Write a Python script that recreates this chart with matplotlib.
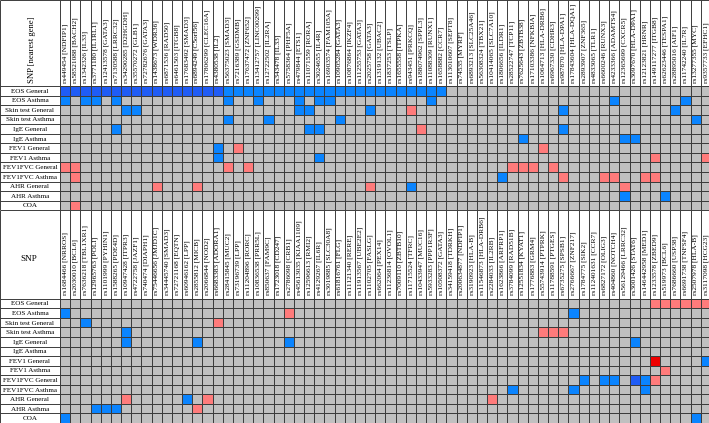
import numpy as np
import matplotlib.pyplot as plt
from matplotlib.colors import ListedColormap

# row traits (same for both panels)
traits = ['EOS General', 'EOS Asthma', 'Skin test General', 'Skin test Asthma',
          'IgE General', 'IgE Asthma', 'FEV1 General', 'FEV1 Asthma',
          'FEV1FVC General', 'FEV1FVC Asthma', 'AHR General', 'AHR Asthma', 'COA']

top_snps = [
    'rs449454 [NDFIP1]', 'rs58521088 [BACH2]', 'rs1342326 [IL33]', 'rs3771180 [IL1RL1]',
    'rs12413578 [GATA3]', 'rs7130588 [LRRC32]', 'rs34290285 [D2HGDH]', 'rs35570272 [GLB1]',
    'rs72782676 [GATA3]', 'rs1438673 [WDR36]', 'rs6871536 [RAD50]', 'rs6461503 [ITGB8]',
    'rs17683492 [SMAD3]', 'rs6894249 [C5orf56]', 'rs17806299 [CLEC16A]', 'rs4380538 [IL2]',
    'rs56375023 [SMAD3]', 'rs7216389 [GSDMB]', 'rs17637472 [ZNF652]', 'rs13412757 [LINC00299]',
    'rs12722502 [IL2RA]', 'rs343478 [IL33]', 'rs5758364 [PHF5A]', 'rs479844 [ETS1]',
    'rs11071559 [RORA]', 'rs3024655 [IL4R]', 'rs16903574 [FAM105A]', 'rs10905284 [GATA3]',
    'rs10876864 [IKZF4]', 'rs11255753 [GATA3]', 'rs2025758 [GATA3]', 'rs1319132 [UBAC2]',
    'rs1837253 [TSLP]', 'rs1655558 [ITPKA]', 'rs943451 [PRKCQ]', 'rs188074962 [SPPL3]',
    'rs11088309 [RUNX1]', 'rs1658882 [CCR7]', 'rs113010607 [SEPT8]', 'rs74535 [MYRF]',
    'rs6893213 [SLC25A46]', 'rs56308324 [TBX21]', 'rs10414065 [SLC7A10]', 'rs1806656 [ILDR1]',
    'rs28522747 [TCP11]', 'rs7625643 [ZBTB38]', 'rs17103386 [NFKBIA]', 'rs1064713 [HLA-DRB6]',
    'rs6967330 [CDHR3]', 'rs987870 [HLA-DPA1]', 'rs17843604 [HLA-DQA1]', 'rs2893907 [ZNF365]',
    'rs4833065 [TLR1]', 'rs6600246 [RUNX3]', 'rs4233366 [ADAMTS4]', 'rs12365699 [CXCR5]',
    'rs3097670 [HLA-DPA1]', 'rs12123821 [HRNR]', 'rs149117277 [ITGB8]', 'rs62623446 [TESPA1]',
    'rs28895016 [AIF1]', 'rs11742240 [IL7R]', 'rs13277355 [MYC]', 'rs9357733 [EFHC1]']

bottom_snps = [
    'rs1684466 [NRROS]', 'rs2030010 [BCL6]', 'rs7636218 [TBL1XR1]', 'rs12965763 [POLI]',
    'rs1101999 [PYHIN1]', 'rs1588265 [PDE4D]', 'rs10947428 [ITPR3]', 'rs4722758 [JAZF1]',
    'rs740474 [DIAPH1]', 'rs75446656 [JMJD1C]', 'rs34445740 [SMAD3]', 'rs72721168 [EQTN]',
    'rs60946162 [LPP]', 'rs2855812 [MICB]', 'rs2066844 [NOD2]', 'rs6683383 [ADORA1]',
    'rs28415845 [MUC2]', 'rs73196739 [LPP]', 'rs11204896 [RORC]', 'rs10836538 [PRR5L]',
    'rs850637 [FAM9C]', 'rs1723018 [CD247]', 'rs2786098 [CRB1]', 'rs45613035 [KIAA1109]',
    'rs12596613 [RMI2]', 'rs4129267 [IL6R]', 'rs3019885 [SLC30A8]', 'rs61816761 [FLG]',
    'rs11121340 [RERE]', 'rs11913567 [UBE2E2]', 'rs1102705 [FASLG]', 'rs662064 [PEX14]',
    'rs11236814 [OVOL1]', 'rs7009110 [ZBTB10]', 'rs11715524 [TFRC]', 'rs10433947 [MUC16]',
    'rs5933283 [PPP1R3F]', 'rs10508372 [GATA3]', 'rs34159418 [TDRKH]', 'rs200634877 [NDFIP1]',
    'rs3190923 [HLA-B]', 'rs11546873 [HLA-DRB6]', 'rs2284033 [IL2RB]', 'rs1623866 [ARFRP1]',
    'rs3784099 [RAD51B]', 'rs12551834 [KYAT1]', 'rs1776883 [GRM4]', 'rs55743914 [PTPRK]',
    'rs11788591 [PTGES]', 'rs6735275 [SPSB1]', 'rs2766667 [ZNF217]', 'rs1784775 [SIK2]',
    'rs112401631 [CCR7]', 'rs6827172 [OLIG3]', 'rs404860 [NOTCH4]', 'rs56129466 [LRRC32]',
    'rs3001426 [STAT6]', 'rs146442958 [MED1]', 'rs1233578 [ZBED9]', 'rs519973 [BCL6]',
    'rs7686660 [USP38]', 'rs6691738 [TNFSF4]', 'rs2507978 [HLA-B]', 'rs3117098 [HCG23]']

# cell codes: . none, b blue, D dark blue, r light red, R red
top_cells = [
    'DDDDDDDDDDDDDDDDbbbbbbbbbbbbbbbbbbbbbb..........................',
    'b.bb.b..........b..b...b.bb.........b.................b......b..',
    '......bb...............bb.....b...r..............b..........b...',
    '................b...b......b..................................b.',
    '.....b..................bb.........r.............b..............',
    '.............................................b.........bb.......',
    '...............b.r.............................r................',
    '...............b.........b................................r....r',
    'rr..............r.r.........................rrr.r...............',
    '.r.........................................b.....r...rr..rr.....',
    '.........r...r................r...b....................r........',
    '.......................................................b...b....',
    '.r..............................................................']

bottom_cells = [
    '..........................................................rrrrrr',
    'b.....................r...........................b.............',
    '..b............r................................................',
    '......b........................................rrr..............',
    '......b......b........b.................................b.......',
    '................................................................',
    '..........................................................R....b',
    '...........................................................r....',
    '...................................................b.bb.Dbr.....',
    '............................................b.....b......b......',
    '......r.....b.r...........................r.....................',
    '...bbb.......r..................................................',
    'b.............................................................b.']

code_map = {'.': 0, 'b': 1, 'D': 2, 'r': 3, 'R': 4}
cmap = ListedColormap(['#c0c0c0', '#0a84ff', '#1f5cf5', '#ff7b7b', '#ee0000'])
line_c = '#3c3c3c'
serif = 'Liberation Serif'

W, H = 709, 423
col_w, row_h, lab_px = 10.17, 9.56, 60
ncol, nrow = len(top_snps), len(traits)
lab = lab_px / col_w


def draw_panel(ax, snps, cells, hdr, header_text, vertical_header):
    m = np.array([[code_map[c] for c in s] for s in cells])
    ax.pcolormesh(np.arange(ncol + 1), np.arange(nrow + 1), m, cmap=cmap,
                  vmin=-0.5, vmax=4.5, edgecolors=line_c, linewidth=0.7)
    ax.vlines(np.arange(ncol + 1), -hdr, 0, color=line_c, lw=0.7)
    ax.vlines([-lab], -hdr, nrow, color=line_c, lw=0.7)
    ax.hlines(np.arange(nrow + 1), -lab, 0, color=line_c, lw=0.7)
    ax.hlines([-hdr], -lab, ncol, color=line_c, lw=0.7)
    for i, s in enumerate(snps):
        ax.text(i + 0.5, -0.35, s, rotation=90, ha='center', va='bottom',
                fontsize=5.3, family=serif)
    for j, t in enumerate(traits):
        ax.text(-lab / 2, j + 0.55, t, ha='center', va='center',
                fontsize=5.1, family=serif)
    if vertical_header:
        ax.text(-lab / 2 + 0.2, -0.3, header_text, rotation=90, ha='center',
                va='bottom', fontsize=6.2, family=serif)
    else:
        ax.text(-lab / 2 - 0.15, -hdr * 0.45, header_text, ha='center',
                va='center', fontsize=6.6, family=serif)
    ax.set_xlim(-lab, ncol)
    ax.set_ylim(nrow, -hdr)
    ax.axis('off')


fig = plt.figure(figsize=(W / 100, H / 100), dpi=100)
fig.patch.set_facecolor('white')

split = 86 + nrow * row_h  # bottom of the top panel in pixels
full_w = (lab_px + ncol * col_w) / W

ax1 = fig.add_axes([0, (H - split) / H, full_w, split / H])
draw_panel(ax1, top_snps, top_cells, 86 / row_h, 'SNP [nearest gene]', True)

bot_h = H - split
ax2 = fig.add_axes([0, 0, full_w, bot_h / H])
draw_panel(ax2, bottom_snps, bottom_cells, (bot_h - nrow * row_h) / row_h, 'SNP', False)

fig.savefig('out.png', dpi=100)
